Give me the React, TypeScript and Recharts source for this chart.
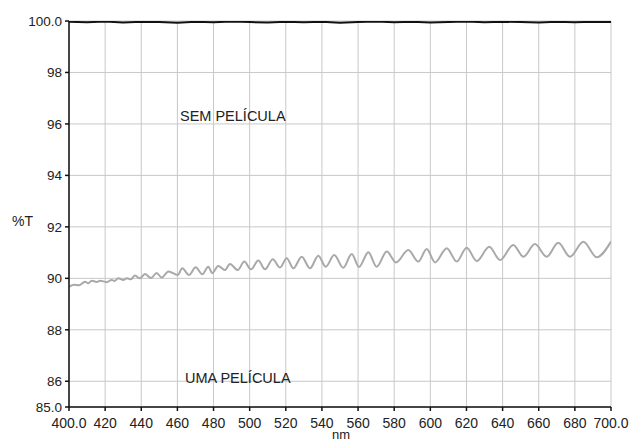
import { LineChart, Line, XAxis, YAxis, CartesianGrid } from "recharts"

// eixo x (nm) e eixo y (%T)
const X_TICKS = [400, 420, 440, 460, 480, 500, 520, 540, 560, 580, 600, 620, 640, 660, 680, 700]
const Y_TICKS = [85, 86, 88, 90, 92, 94, 96, 98, 100]

// sem película: linha quase em 100%
const SEM_NM = [400, 410, 420, 430, 440, 450, 460, 470, 480, 490, 500, 510, 520, 530, 540, 550, 560, 570, 580, 590, 600, 610, 620, 630, 640, 650, 660, 670, 680, 690, 700]
const SEM_T = [99.97, 99.95, 99.98, 99.94, 99.97, 99.96, 99.93, 99.97, 99.95, 99.98, 99.96, 99.94, 99.97, 99.95, 99.97, 99.93, 99.96, 99.98, 99.95, 99.97, 99.94, 99.96, 99.98, 99.95, 99.97, 99.96, 99.94, 99.97, 99.95, 99.97, 99.96]

// uma película: máximos e mínimos das franjas de interferência
const UMA_NM = [400.0, 402.8, 405.5, 408.9, 410.7, 412.6, 415.3, 417.2, 420.9, 423.6, 425.2, 427.3, 430.1, 431.9, 434.3, 436.5, 439.3, 442.0, 445.4, 448.5, 451.3, 455.0, 460.2, 462.7, 466.4, 470.1, 473.8, 477.1, 479.3, 482.6, 486.3, 489.1, 493.4, 497.0, 500.7, 504.8, 508.5, 512.8, 516.8, 520.5, 524.2, 528.8, 533.4, 538.0, 542.1, 546.8, 551.8, 556.5, 560.5, 565.7, 570.3, 575.9, 581.0, 587.8, 593.3, 598.0, 602.6, 609.1, 614.6, 620.1, 625.7, 632.6, 638.6, 645.9, 651.5, 657.9, 664.4, 670.8, 677.3, 684.7, 692.1, 700.0]
const UMA_T = [89.68, 89.75, 89.73, 89.87, 89.81, 89.91, 89.86, 89.91, 89.85, 89.94, 89.90, 90.00, 89.94, 90.00, 89.96, 90.11, 90.00, 90.17, 90.01, 90.21, 90.03, 90.27, 90.13, 90.39, 90.13, 90.43, 90.16, 90.45, 90.20, 90.48, 90.32, 90.56, 90.32, 90.65, 90.35, 90.69, 90.35, 90.74, 90.42, 90.78, 90.39, 90.84, 90.39, 90.88, 90.45, 90.91, 90.41, 90.95, 90.44, 91.01, 90.45, 91.04, 90.62, 91.10, 90.65, 91.14, 90.62, 91.17, 90.65, 91.19, 90.67, 91.23, 90.71, 91.30, 90.84, 91.33, 90.84, 91.38, 90.84, 91.42, 90.82, 91.43]

const semData = SEM_NM.map((nm, i) => ({ nm, t: SEM_T[i] }))
const umaData = UMA_NM.map((nm, i) => ({ nm, t: UMA_T[i] }))

const FONT = "'Liberation Sans', Arial, Helvetica, sans-serif"
const fmt = (v: number) => (v === 400 || v === 700 || v === 85 || v === 100 ? v.toFixed(1) : String(v))

export default function App() {
  return (
    <div style={{ position: "absolute", left: 0, top: 0, width: 631, height: 443, background: "#fff", fontFamily: FONT }}>
      <LineChart width={631} height={443} margin={{ top: 21, right: 20, bottom: 0, left: 0 }}>
        <CartesianGrid stroke="#c8c8c8" strokeWidth={1} />
        <XAxis
          dataKey="nm"
          type="number"
          domain={[400, 700]}
          ticks={X_TICKS}
          tickFormatter={fmt}
          height={36}
          stroke="#111"
          strokeWidth={1.5}
          tickSize={4}
          tickMargin={7}
          tick={{ fill: "#222", fontSize: 14, fontFamily: FONT }}
          interval={0}
          allowDataOverflow
        />
        <YAxis
          type="number"
          domain={[85, 100]}
          ticks={Y_TICKS}
          tickFormatter={fmt}
          width={69}
          stroke="#111"
          strokeWidth={1.5}
          tickSize={4}
          tickMargin={3}
          tick={{ fill: "#222", fontSize: 13.5, fontFamily: FONT }}
          interval={0}
          allowDataOverflow
        />
        <Line data={umaData} dataKey="t" type="monotone" stroke="#a9a9a9" strokeWidth={2} dot={false} isAnimationActive={false} />
        <Line data={semData} dataKey="t" type="linear" stroke="#111" strokeWidth={2} dot={false} isAnimationActive={false} />
      </LineChart>
      <div style={{ position: "absolute", left: 180, top: 108, fontSize: 14.5, color: "#222" }}>SEM PELÍCULA</div>
      <div style={{ position: "absolute", left: 185, top: 370, fontSize: 14.5, color: "#222" }}>UMA PELÍCULA</div>
      <div style={{ position: "absolute", left: 12, top: 213, fontSize: 14, color: "#222" }}>%T</div>
      <div style={{ position: "absolute", left: 332, top: 427, fontSize: 13, color: "#222" }}>nm</div>
    </div>
  )
}
